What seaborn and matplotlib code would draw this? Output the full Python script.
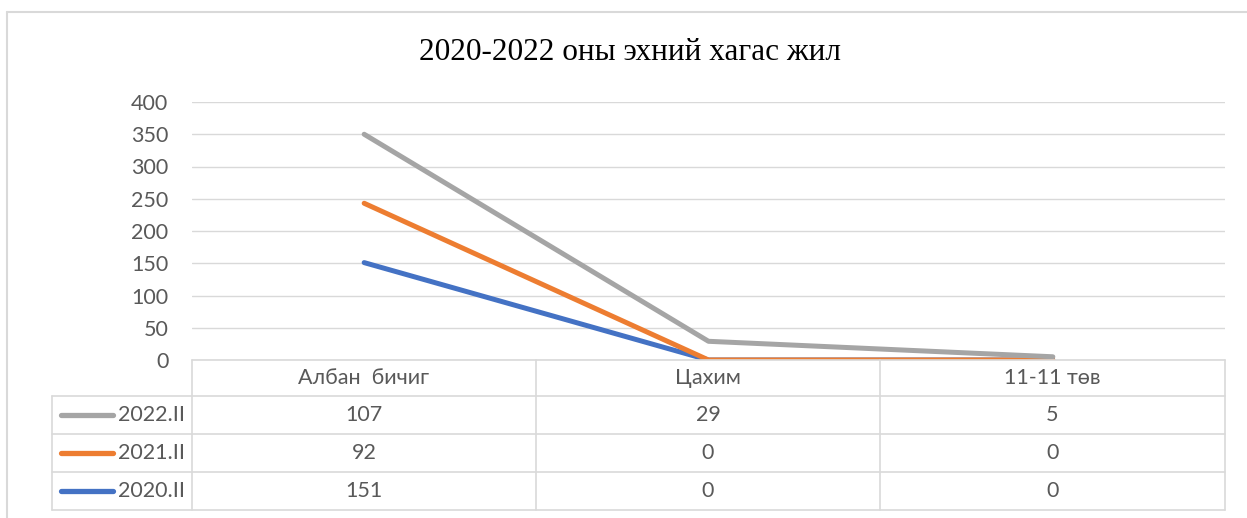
import matplotlib.pyplot as plt
import matplotlib.lines as mlines
import numpy as np
import pandas as pd
import seaborn as sns

# data (stacked line chart with data table)
categories = ["Албан  бичиг", "Цахим", "11-11 төв"]
series_names = ["2022.II", "2021.II", "2020.II"]
v2022 = [107, 29, 5]
v2021 = [92, 0, 0]
v2020 = [151, 0, 0]
colors = {"2022.II": "#A5A5A5", "2021.II": "#ED7D31", "2020.II": "#4472C4"}

sns.set_theme(style="white")
plt.rcParams['font.family'] = ['Lato', 'DejaVu Sans']

# stacked values: 2020 at bottom, 2021 on top of it, 2022 on top
stack2020 = np.array(v2020)
stack2021 = stack2020 + np.array(v2021)
stack2022 = stack2021 + np.array(v2022)

rows = []
for name, vals in [("2020.II", stack2020), ("2021.II", stack2021), ("2022.II", stack2022)]:
    for i, v in enumerate(vals):
        rows.append({"pos": i, "value": v, "series": name})
df = pd.DataFrame(rows)

W, H = 1247, 518
fig = plt.figure(figsize=(W / 100, H / 100), dpi=100)

def fx(px):
    return px / W

def fy(py):
    return 1 - py / H

GRID = "#D9D9D9"
TXT = "#595959"
FS = 15.5

# plot area
ax = fig.add_axes([fx(192), fy(360), fx(1225) - fx(192), fy(102) - fy(360)])
sns.lineplot(data=df, x="pos", y="value", hue="series",
             hue_order=["2020.II", "2021.II", "2022.II"], palette=colors,
             linewidth=3.6, solid_capstyle="round", legend=False, ax=ax)
ax.set_xlim(-0.5, 2.5)
ax.set_ylim(0, 400)
ax.set_yticks(range(0, 401, 50))
ax.set_xticks([])
ax.set_xlabel("")
ax.set_ylabel("")
ax.grid(axis="y", color=GRID, linewidth=1)
ax.set_axisbelow(True)
for s in ax.spines.values():
    s.set_visible(False)
ax.tick_params(axis="y", length=0, pad=17, labelsize=FS, labelcolor=TXT)

# title
fig.text(fx(630), fy(52), "2020-2022 оны эхний хагас жил", ha="center", va="center",
         fontsize=22.5, family=["Liberation Serif", "DejaVu Serif"], color="black")

# outer chart border
def hline(x0, x1, y, c=GRID, lw=1.2):
    fig.add_artist(mlines.Line2D([fx(x0), fx(x1)], [fy(y), fy(y)], color=c, lw=lw))

def vline(x, y0, y1, c=GRID, lw=1.2):
    fig.add_artist(mlines.Line2D([fx(x), fx(x)], [fy(y0), fy(y1)], color=c, lw=lw))

hline(7, W, 12, lw=1.5)
vline(7, 12, H, lw=1.5)

# data table
col_edges = [192, 536, 880, 1225]
row_edges = [396, 434, 472, 510]
hline(192, 1225, 360)
for y in row_edges:
    hline(52, 1225, y)
for x in col_edges:
    vline(x, 360, 510)
vline(52, 396, 510)

for j, cat in enumerate(categories):
    xc = (col_edges[j] + col_edges[j + 1]) / 2
    fig.text(fx(xc), fy(378), cat, ha="center", va="center", fontsize=FS, color=TXT)

table_vals = {"2022.II": v2022, "2021.II": v2021, "2020.II": v2020}
for i, name in enumerate(series_names):
    yc = (row_edges[i] + row_edges[i + 1]) / 2
    fig.add_artist(mlines.Line2D([fx(61), fx(113)], [fy(yc), fy(yc)], color=colors[name],
                                 lw=3.8, solid_capstyle="round"))
    fig.text(fx(185), fy(yc), name, ha="right", va="center", fontsize=FS, color=TXT)
    for j, v in enumerate(table_vals[name]):
        xc = (col_edges[j] + col_edges[j + 1]) / 2
        fig.text(fx(xc), fy(yc), str(v), ha="center", va="center", fontsize=FS, color=TXT)

fig.savefig("out.png", dpi=100)
